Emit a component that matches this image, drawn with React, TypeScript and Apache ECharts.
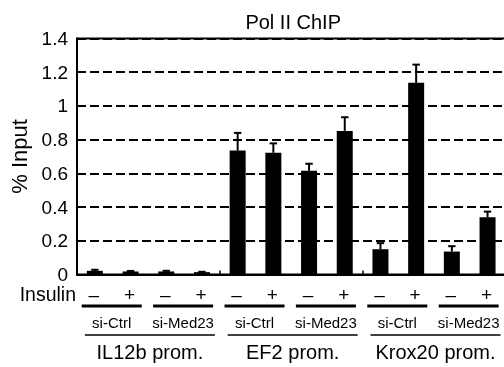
import React, { useEffect, useRef } from 'react';
import * as echarts from 'echarts';

const title = 'Pol II ChIP';
const yAxisName = '% Input';
const promoters = ['IL12b prom.', 'EF2 prom.', 'Krox20 prom.'];
const sirnas = ['si-Ctrl', 'si-Med23'];
const insulinSigns = ['–', '+'];
const insulinLabel = 'Insulin';
const categories = [
  'IL12b si-Ctrl -', 'IL12b si-Ctrl +', 'IL12b si-Med23 -', 'IL12b si-Med23 +',
  'EF2 si-Ctrl -', 'EF2 si-Ctrl +', 'EF2 si-Med23 -', 'EF2 si-Med23 +',
  'Krox20 si-Ctrl -', 'Krox20 si-Ctrl +', 'Krox20 si-Med23 -', 'Krox20 si-Med23 +',
];
const values = [0.022, 0.018, 0.018, 0.014, 0.735, 0.722, 0.615, 0.852, 0.15, 1.137, 0.136, 0.34];
const errors = [0.006, 0.003, 0.004, 0.002, 0.105, 0.056, 0.042, 0.081, 0.036, 0.108, 0.032, 0.033];

const FONT = '"Liberation Sans", Arial, sans-serif';

export default function App() {
  const ref = useRef<HTMLDivElement>(null);
  useEffect(() => {
    const chart = echarts.init(ref.current!, undefined, { renderer: 'svg' });
    const errData = categories.map((c, i) => [i, values[i], values[i] + errors[i]]);
    chart.setOption({
      animation: false,
      textStyle: { fontFamily: FONT, color: '#000' },
      grid: {
        left: 77, top: 38.5, width: 428.4, height: 236,
        outerBoundsMode: 'none',
        containLabel: false,
        show: true, borderColor: '#000', borderWidth: 2, backgroundColor: 'transparent',
      },
      xAxis: {
        type: 'category',
        data: categories,
        axisLine: { lineStyle: { color: '#000', width: 2 } },
        axisTick: { show: true, inside: true, length: 4, lineStyle: { color: '#000', width: 1.5 } },
        axisLabel: { show: false },
        splitLine: { show: false },
      },
      yAxis: {
        type: 'value',
        min: 0, max: 1.4, interval: 0.2,
        name: yAxisName,
        nameLocation: 'middle',
        nameGap: 45,
        nameRotate: 90,
        nameTextStyle: { fontSize: 22, fontFamily: FONT, color: '#000' },
        axisLine: { show: true, lineStyle: { color: '#000', width: 2 } },
        axisTick: { show: true, inside: true, length: 4, lineStyle: { color: '#000', width: 1.5 } },
        axisLabel: { fontSize: 19, fontFamily: FONT, color: '#000', margin: 9 },
        splitLine: { show: true, lineStyle: { color: '#000', width: 2, type: [9, 4] } },
      },
      series: [
        {
          type: 'bar',
          data: values,
          barWidth: 16,
          itemStyle: { color: '#000' },
          z: 3,
        },
        {
          type: 'custom',
          data: errData,
          z: 4,
          renderItem: (params: any, api: any) => {
            const base = api.coord([api.value(0), api.value(1)]);
            const top = api.coord([api.value(0), api.value(2)]);
            return {
              type: 'group',
              children: [
                { type: 'line', shape: { x1: base[0], y1: base[1], x2: top[0], y2: top[1] }, style: { stroke: '#000', lineWidth: 2 } },
                { type: 'line', shape: { x1: top[0] - 3.7, y1: top[1], x2: top[0] + 3.7, y2: top[1] }, style: { stroke: '#000', lineWidth: 2 } },
              ],
            };
          },
        },
      ],
    });

    const px = (i: number) => chart.convertToPixel({ xAxisIndex: 0 }, i) as number;
    const graphics: any[] = [];
    const cx = (px(0) + px(categories.length - 1)) / 2;
    graphics.push({ type: 'text', x: cx + 2, y: 22, style: { text: title, font: `20px ${FONT}`, fill: '#000', align: 'center', verticalAlign: 'middle' } });
    graphics.push({ type: 'text', x: 76, y: 294, style: { text: insulinLabel, font: `19.5px ${FONT}`, fill: '#000', align: 'right', verticalAlign: 'middle' } });
    categories.forEach((c, i) => {
      graphics.push({ type: 'text', x: px(i) - 1, y: 294, style: { text: insulinSigns[i % 2], font: `19px ${FONT}`, fill: '#000', align: 'center', verticalAlign: 'middle' } });
    });
    for (let p = 0; p < 6; p++) {
      const c = (px(2 * p) + px(2 * p + 1)) / 2 - 1;
      graphics.push({ type: 'line', shape: { x1: c - 30, y1: 306, x2: c + 30, y2: 306 }, style: { stroke: '#000', lineWidth: 3 } });
      graphics.push({ type: 'text', x: c, y: 322, style: { text: sirnas[p % 2], font: `15px ${FONT}`, fill: '#000', align: 'center', verticalAlign: 'middle' } });
    }
    promoters.forEach((name, g) => {
      const c = (px(4 * g) + px(4 * g + 3)) / 2 + 1.5;
      graphics.push({ type: 'line', shape: { x1: c - 65, y1: 335, x2: c + 65, y2: 335 }, style: { stroke: '#000', lineWidth: 1.5 } });
      graphics.push({ type: 'text', x: c, y: 352, style: { text: name, font: `20px ${FONT}`, fill: '#000', align: 'center', verticalAlign: 'middle' } });
    });
    chart.setOption({ graphic: graphics });

    return () => chart.dispose();
  }, []);
  return <div ref={ref} style={{ position: 'fixed', left: 0, top: 0, width: 504, height: 367 }} />;
}
